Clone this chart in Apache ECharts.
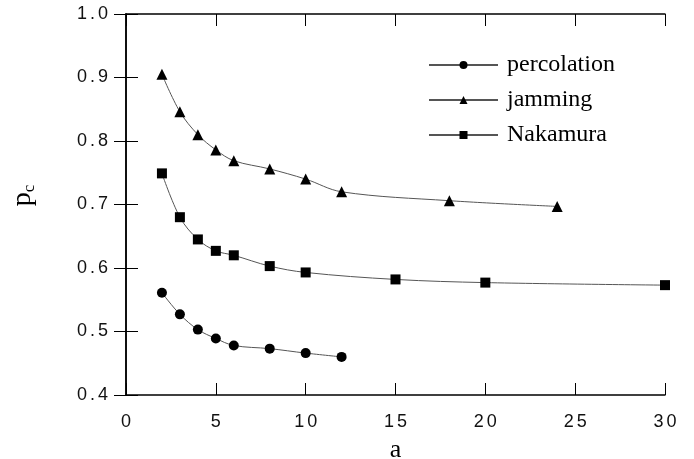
<!DOCTYPE html>
<html>
<head>
<meta charset="utf-8">
<script src="https://cdn.jsdelivr.net/npm/echarts@6/dist/echarts.min.js"></script>
<style>
  html, body { margin: 0; padding: 0; background: #fff; }
  #chart { width: 694px; height: 459px; }
</style>
</head>
<body>
<div id="chart"></div>
<script>
// values
const aPercolation = [2, 3, 4, 5, 6, 8, 10, 12]
const pPercolation = [0.561, 0.527, 0.503, 0.489, 0.478, 0.473, 0.466, 0.460]

const aJamming = [2, 3, 4, 5, 6, 8, 10, 12, 18, 24]
const pJamming = [0.905, 0.846, 0.810, 0.786, 0.769, 0.756, 0.740, 0.720, 0.706, 0.697]

const aNakamura = [2, 3, 4, 5, 6, 8, 10, 15, 20, 30]
const pNakamura = [0.749, 0.680, 0.645, 0.627, 0.620, 0.603, 0.593, 0.582, 0.577, 0.573]

const xTicks = { min: 0, max: 30, interval: 5 }
const yTicks = { min: 0.4, max: 1.0, interval: 0.1 }

const pairs = (xs, ys) => xs.map((x, i) => [x, ys[i]])
// the original tick labels have their digits spread apart
const spaced = s => s.split('').map(ch => '{d|' + ch + '}').join('{g|}')
const tickRich = {
  d: { fontFamily: 'Liberation Sans', fontSize: 18, color: '#111' },
  g: { width: 3 },
}

const chart = echarts.init(document.getElementById('chart'))

const frameLine = { lineStyle: { color: '#000', width: 1.5 } }
const inTicks = { inside: true, length: 12, lineStyle: { color: '#000' } }

function mkSeries(name, xs, ys, symbol, size) {
  return {
    name,
    type: 'line',
    data: pairs(xs, ys),
    smooth: 0.35,
    symbol,
    symbolSize: size,
    showAllSymbol: true,
    lineStyle: { color: '#555', width: 1 },
    itemStyle: { color: '#000' },
    emphasis: { disabled: true },
  }
}

chart.setOption({
  animation: false,
  grid: { left: 126, right: 29, top: 14, bottom: 64, outerBoundsMode: 'none' },
  legend: {
    orient: 'vertical',
    left: 428,
    top: 53,
    padding: 0,
    itemWidth: 69,
    itemHeight: 10,
    itemGap: 11,
    textStyle: { fontFamily: 'Liberation Serif', fontSize: 24, color: '#000', padding: [0, 0, 0, 4] },
    data: ['percolation', 'jamming', 'Nakamura'],
  },
  xAxis: [
    {
      type: 'value',
      ...xTicks,
      name: 'a',
      nameLocation: 'middle',
      nameGap: 42,
      nameTextStyle: { fontFamily: 'Liberation Serif', fontSize: 26, color: '#000' },
      axisLine: frameLine,
      axisTick: inTicks,
      axisLabel: { margin: 18, rich: tickRich, formatter: v => spaced(String(v)) },
      splitLine: { show: false },
    },
    {
      type: 'value',
      position: 'top',
      ...xTicks,
      axisLine: frameLine,
      axisTick: inTicks,
      axisLabel: { show: false },
      splitLine: { show: false },
    },
  ],
  yAxis: [
    {
      type: 'value',
      ...yTicks,
      name: '{p|p}{c|c}',
      nameLocation: 'middle',
      nameRotate: 90,
      nameGap: 88,
      nameTextStyle: {
        padding: [0, 0, 0, 18],
        rich: {
          p: { fontFamily: 'Liberation Serif', fontSize: 28, color: '#000' },
          c: { fontFamily: 'Liberation Serif', fontSize: 17, color: '#000', padding: [14, 0, 0, 0] },
        },
      },
      axisLine: frameLine,
      axisTick: inTicks,
      axisLabel: { margin: 18, rich: tickRich, formatter: v => spaced(v.toFixed(1)) },
      splitLine: { show: false },
    },
    {
      type: 'value',
      position: 'right',
      ...yTicks,
      axisLine: frameLine,
      axisTick: inTicks,
      axisLabel: { show: false },
      splitLine: { show: false },
    },
  ],
  series: [
    mkSeries('percolation', aPercolation, pPercolation, 'circle', 10),
    mkSeries('jamming', aJamming, pJamming, 'triangle', 11),
    mkSeries('Nakamura', aNakamura, pNakamura, 'rect', 10),
  ],
})
</script>
</body>
</html>
